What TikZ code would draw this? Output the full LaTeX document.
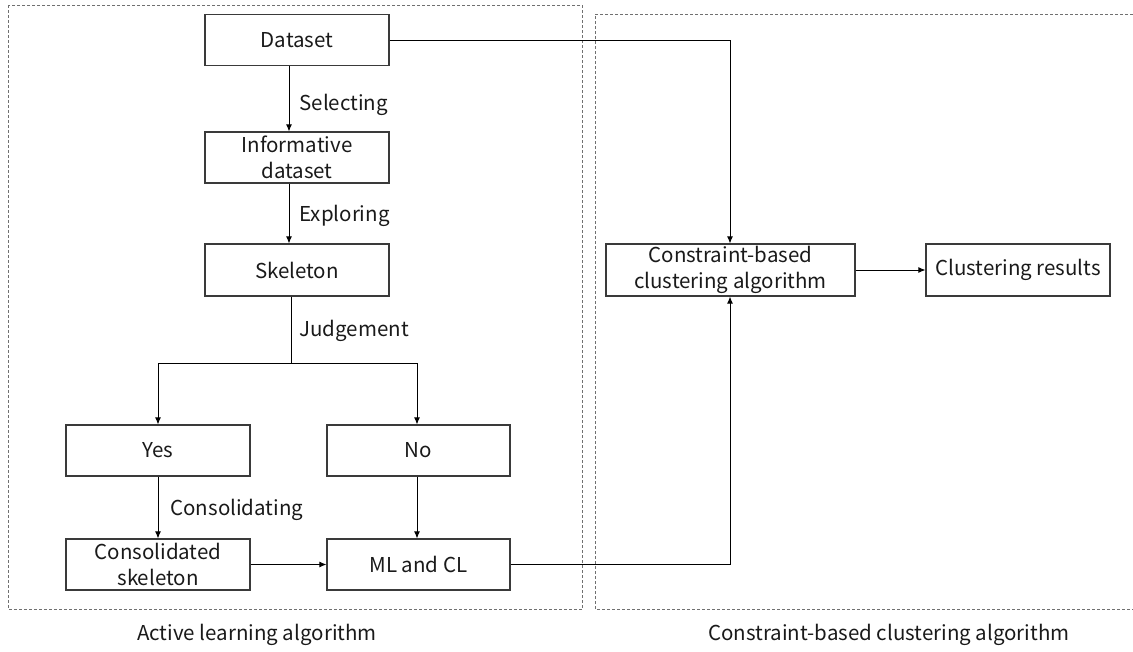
\documentclass[tikz,border=0pt]{standalone}
\usepackage{fontspec}
\setmainfont{Noto Sans CJK SC}
\usetikzlibrary{arrows.meta,calc}
\definecolor{boxc}{HTML}{3A3A3A}
\definecolor{dashc}{HTML}{707070}
\definecolor{txtc}{HTML}{1A1A1A}
\newcommand{\dfont}{\fontsize{20.5}{26.5}\selectfont}
\tikzset{
  box/.style={draw=boxc, line width=1.2pt, minimum width=184pt, minimum height=51pt, inner sep=0pt, align=center, font=\dfont, text=txtc},
  lab/.style={font=\dfont, text=txtc, inner sep=0pt, anchor=west},
  captext/.style={font=\dfont, text=txtc, inner sep=0pt},
  conn/.style={draw=black, line width=0.9pt},
  arr/.style={conn, -{Latex[length=7pt,width=6pt]}},
  region/.style={draw=dashc, line width=0.9pt, dash pattern=on 3pt off 2pt}
}
\begin{document}
\begin{tikzpicture}[x=1pt,y=-1pt]
\useasboundingbox (0,0) rectangle (1133,651);
% regions
\draw[region] (8,5) rectangle (582.5,609);
\draw[region] (1133,14) -- (595,14) -- (595,609) -- (1133,609);
% nodes
\node[box] (ds) at (297,40) {Dataset};
\node[box] (inf) at (297,157.5) {Informative\\dataset};
\node[box, minimum height=52pt] (sk) at (297,270) {Skeleton};
\node[box] (yes) at (158,450.5) {Yes};
\node[box, minimum width=183pt] (no) at (418.5,450.5) {No};
\node[box] (cons) at (158,564.5) {Consolidated\\skeleton};
\node[box, minimum width=183pt] (ml) at (418.5,564.5) {ML and CL};
\node[box, minimum width=249pt, minimum height=52pt] (cbca) at (730.5,270) {Constraint-based\\clustering algorithm};
\node[box, minimum height=52pt] (cr) at (1018,270) {Clustering results};
% helper coordinates
\coordinate (c1) at (289,0);
\coordinate (c2) at (291,0);
\coordinate (br) at (291,363);
\coordinate (bl) at (158,363);
\coordinate (bn) at (417,363);
\coordinate (rx) at (730,0);
% connectors
\draw[arr] (ds.south -| c1) -- node[lab, xshift=10pt, yshift=-6pt]{Selecting} (inf.north -| c1);
\draw[arr] (inf.south -| c1) -- node[lab, xshift=10pt, yshift=-2pt]{Exploring} (sk.north -| c1);
\draw[conn] (sk.south -| c2) -- node[lab, xshift=8pt, yshift=-1pt]{Judgement} (br);
\draw[arr] (br) -- (bl) -- (yes.north);
\draw[arr] (br) -- (bn) -- (no.north -| bn);
\draw[arr] (yes.south) -- node[lab, xshift=12pt, yshift=-2pt]{Consolidating} (cons.north);
\draw[arr] (no.south -| bn) -- (ml.north -| bn);
\draw[arr] (cons.east) -- (ml.west);
\draw[arr] (ds.east) -- (ds.east -| rx) -- (cbca.north -| rx);
\draw[arr] (ml.east) -- (ml.east -| rx) -- (cbca.south -| rx);
\draw[arr] (cbca.east) -- (cr.west);
% captions
\node[captext] (capl) at (257,635) {Active learning algorithm};
\node[captext] (capr) at (889,635) {Constraint-based clustering algorithm};
\end{tikzpicture}
\end{document}
